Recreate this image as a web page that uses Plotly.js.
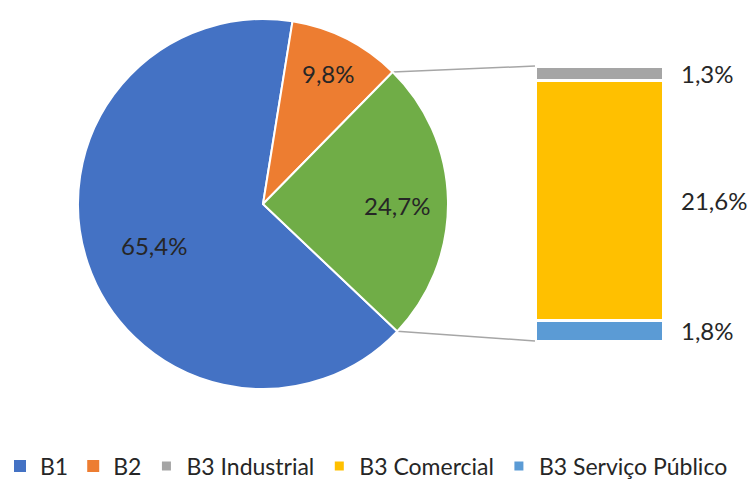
<!DOCTYPE html>
<html><head><meta charset="utf-8">
<script src="https://cdn.plot.ly/plotly-3.0.1.min.js"></script>
<style>html,body{margin:0;padding:0;background:#fff}#chart{width:751px;height:479px}</style>
</head><body><div id="chart"></div>
<script>
// ---- data ----
const pieLabels = ['B1', 'B2', 'B3'];
const pieValues = [65.4, 9.8, 24.7];
const barLabels = ['B3 Serviço Público', 'B3 Comercial', 'B3 Industrial']; // bottom to top
const barValues = [1.8, 21.6, 1.3];
const legendOrder = ['B1', 'B2', 'B3 Industrial', 'B3 Comercial', 'B3 Serviço Público'];

// ---- styles / layout constants ----
const pieColors = ['#4472C4', '#ED7D31', '#70AD47'];
const barColors = ['#5B9BD5', '#FFC000', '#A5A5A5'];
const W = 751, H = 479;
const FONT = 'Lato, "Open Sans", sans-serif';
const TXT = '#262626';
const pieBox = {x0: 78, x1: 448, y0: 19, y1: 389};
const barBox = {x0: 535, x1: 663, y0: 66, y1: 341};
const pieRotation = 133.5;
const pieLabelPx = [[154, 245], [328, 73], [397, 205]];

const fmt = v => v.toFixed(1).replace('.', ',') + '%';
const px2paper = (x, y) => [x / W, 1 - y / H];

const pieTotal = pieValues.reduce((a, b) => a + b, 0);
const barTotal = barValues.reduce((a, b) => a + b, 0);

const traces = [];
traces.push({
  type: 'pie', labels: pieLabels, values: pieValues, sort: false,
  direction: 'clockwise', rotation: pieRotation,
  domain: {x: [pieBox.x0 / W, pieBox.x1 / W], y: [1 - pieBox.y1 / H, 1 - pieBox.y0 / H]},
  marker: {colors: pieColors, line: {color: '#ffffff', width: 2}},
  textinfo: 'none', showlegend: false, hoverinfo: 'label+value'
});
// legend entries for B1, B2
for (let i = 0; i < 2; i++) {
  traces.push({
    type: 'bar', x: [0], y: [null], name: pieLabels[i],
    marker: {color: pieColors[i]},
    legendrank: legendOrder.indexOf(pieLabels[i]) + 1,
    hoverinfo: 'skip'
  });
}
for (let i = 0; i < barValues.length; i++) {
  traces.push({
    type: 'bar', x: [0], y: [barValues[i]], name: barLabels[i], width: 1,
    marker: {color: barColors[i], line: {color: '#ffffff', width: 3}},
    legendrank: legendOrder.indexOf(barLabels[i]) + 1,
    hoverinfo: 'name+y'
  });
}

const annotations = [];
pieValues.forEach((v, i) => {
  const p = px2paper(pieLabelPx[i][0], pieLabelPx[i][1]);
  annotations.push({xref: 'paper', yref: 'paper', x: p[0], y: p[1], text: fmt(v),
    showarrow: false, xanchor: 'center', yanchor: 'middle', font: {family: FONT, size: 24, color: TXT}});
});
let cum = 0;
barValues.forEach((v, i) => {
  annotations.push({xref: 'x', yref: 'y', x: 0.5, y: cum + v / 2, text: fmt(v), xshift: 16,
    showarrow: false, xanchor: 'left', yanchor: 'middle', font: {family: FONT, size: 24, color: TXT}});
  cum += v;
});

// connector lines from pie slice edges to bar corners
const cx = (pieBox.x0 + pieBox.x1) / 2, cy = (pieBox.y0 + pieBox.y1) / 2;
const r = Math.min(pieBox.x1 - pieBox.x0, pieBox.y1 - pieBox.y0) / 2;
const aTop = (pieRotation + (pieValues[0] + pieValues[1]) / pieTotal * 360) * Math.PI / 180;
const aBot = (pieRotation + 360) * Math.PI / 180;
const ptTop = px2paper(cx + r * Math.sin(aTop), cy - r * Math.cos(aTop));
const ptBot = px2paper(cx + r * Math.sin(aBot), cy - r * Math.cos(aBot));
const shapes = [
  {type: 'line', xref: 'paper', yref: 'paper', x0: ptTop[0], y0: ptTop[1], x1: barBox.x0 / W, y1: 1 - barBox.y0 / H,
   line: {color: '#A6A6A6', width: 1.5}, layer: 'below'},
  {type: 'line', xref: 'paper', yref: 'paper', x0: ptBot[0], y0: ptBot[1], x1: barBox.x0 / W, y1: 1 - barBox.y1 / H,
   line: {color: '#A6A6A6', width: 1.5}, layer: 'below'}
];

const layout = {
  width: W, height: H, margin: {l: 0, r: 0, t: 0, b: 0, autoexpand: false},
  paper_bgcolor: '#ffffff', plot_bgcolor: 'rgba(0,0,0,0)',
  barmode: 'stack', bargap: 0,
  xaxis: {domain: [barBox.x0 / W, barBox.x1 / W], range: [-0.5, 0.5], visible: false, fixedrange: true},
  yaxis: {domain: [1 - barBox.y1 / H, 1 - barBox.y0 / H], range: [0, barTotal], visible: false, fixedrange: true},
  showlegend: true,
  legend: {orientation: 'h', xref: 'container', yref: 'container', x: 0, y: 1 - 466 / H, xanchor: 'left', yanchor: 'middle',
    font: {family: FONT, size: 23, color: TXT}, itemwidth: 30, traceorder: 'normal',
    bgcolor: 'rgba(0,0,0,0)', itemclick: false, itemdoubleclick: false},
  annotations: annotations, shapes: shapes,
  font: {family: FONT, color: TXT}
};

Plotly.newPlot('chart', traces, layout, {displayModeBar: false, staticPlot: true});
</script></body></html>
